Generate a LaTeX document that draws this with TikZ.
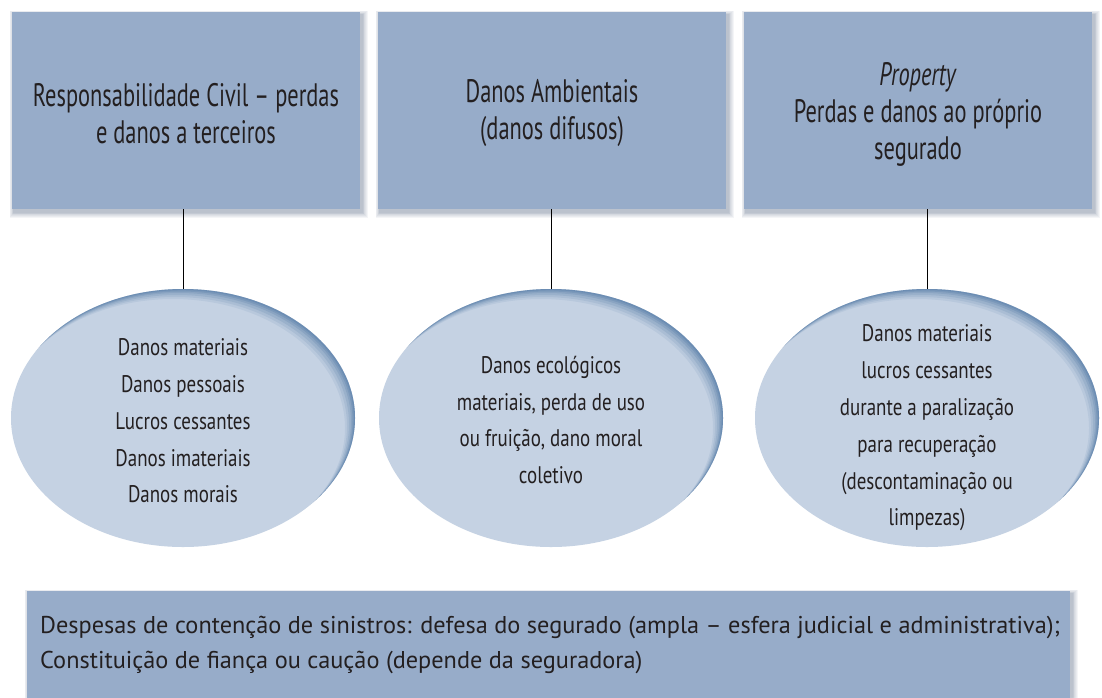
\documentclass[tikz,border=0pt]{standalone}
\usepackage{fontspec}
\setmainfont{PT Sans}
\newfontfamily\condfont[FakeStretch=0.69]{PT Sans}
\newfontfamily\ellfont[FakeStretch=0.79]{PT Sans}
\usetikzlibrary{shapes.geometric}
\definecolor{boxfill}{RGB}{151,172,201}
\definecolor{ellfill}{RGB}{197,210,227}
\definecolor{rimblue}{RGB}{60,105,155}
\definecolor{shadowc}{RGB}{55,80,110}
\definecolor{txt}{RGB}{35,31,32}
\tikzset{
  topbox/.style={rectangle, fill=boxfill, minimum width=348pt, minimum height=197pt,
    inner sep=0pt},
  toptext/.style={align=center, text=txt, inner sep=0pt, font=\condfont\fontsize{32.5}{37}\selectfont},
  ellnode/.style={ellipse, fill=ellfill, minimum width=344pt, minimum height=258pt,
    inner sep=0pt,
    path picture={
      \foreach \d/\o in {10/0.09,8/0.11,6/0.14,4/0.17,2.5/0.2,1.2/0.22}{
        \fill[rimblue, opacity=\o, even odd rule]
          (path picture bounding box.center) ellipse (200pt and 160pt)
          ([shift={(-\d pt,-\d pt)}]path picture bounding box.center) ellipse (172pt and 129pt);
      }
    }},
  elltext/.style={align=center, text=txt, inner sep=0pt, font=\ellfont\fontsize{24}{36.8}\selectfont},
  bottombox/.style={rectangle, fill=boxfill, minimum width=1043pt, minimum height=110pt,
    inner sep=0pt},
  conn/.style={draw=black, line width=0.9pt}
}
\newcommand{\boxshadow}[4]{%
  \foreach \i in {1,...,7}{
    \fill[shadowc, opacity=0.055] (#1-\i*0.6+2, #2-\i*0.6+3) rectangle (#3+\i*0.8+2, #4+\i*0.8+3);
  }}
\begin{document}
\begin{tikzpicture}[x=1pt,y=-1pt]
\useasboundingbox (0,0) rectangle (1102,697);
\fill[white] (0,0) rectangle (1102,697);
% shadows of boxes
\boxshadow{12}{12}{360}{209}
\boxshadow{378}{12}{726}{209}
\boxshadow{744}{12}{1092}{209}
\boxshadow{27}{591}{1070}{701}
% top boxes
\node[topbox] (b1) at (186,110.5) {};
\node[topbox] (b2) at (552,110.5) {};
\node[topbox] (b3) at (918,110.5) {};
\node[toptext] (l1) at ([yshift=-3pt]b1.center) {Responsabilidade Civil – perdas\\e danos a terceiros};
\node[toptext] (l2) at ([yshift=-3pt]b2.center) {Danos Ambientais\\(danos difusos)};
\node[toptext] (l3) at ([yshift=-4pt]b3.center) {\textit{Property}\\Perdas e danos ao próprio\\segurado};
% ellipses
\node[ellnode] (e1) at (183,418) {};
\node[ellnode] (e2) at (551,418) {};
\node[ellnode] (e3) at (927,418) {};
\node[elltext] (t1) at ([yshift=-3pt]e1.center) {Danos materiais\\Danos pessoais\\Lucros cessantes\\Danos imateriais\\Danos morais};
\node[elltext] (t2) at ([yshift=-2pt]e2.center) {Danos ecológicos\\materiais, perda de uso\\ou fruição, dano moral\\coletivo};
\node[elltext] (t3) at ([yshift=-10pt]e3.center) {Danos materiais\\lucros cessantes\\durante a paralização\\para recuperação\\(descontaminação ou\\limpezas)};
% connectors
\draw[conn] (b1.south -| e1.north) -- (e1.north);
\draw[conn] (b2.south -| e2.north) -- (e2.north);
\draw[conn] (b3.south -| e3.north) -- (e3.north);
% bottom box
\node[bottombox] (bb) at (548.5,646) {};
\node[anchor=west, align=left, text=txt, inner sep=0pt, font=\fontsize{24.3}{35}\selectfont] (bt) at (40,645)
  {Despesas de contenção de sinistros: defesa do segurado (ampla – esfera judicial e administrativa);\\Constituição de fiança ou caução (depende da seguradora)};
\end{tikzpicture}
\end{document}
